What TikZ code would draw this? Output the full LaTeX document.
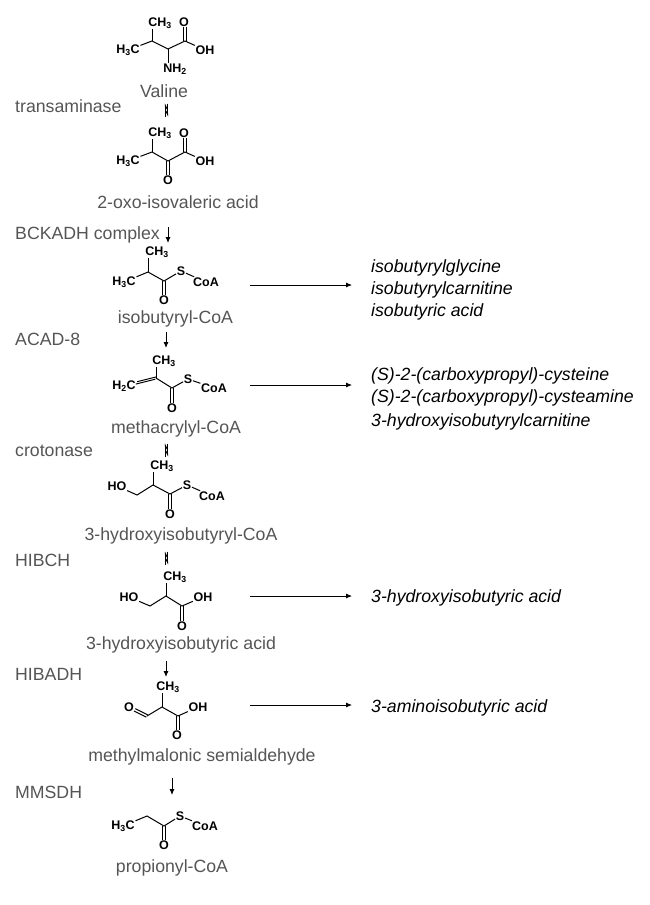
\documentclass[tikz,border=0pt]{standalone}
\usepackage{fontspec}
\setmainfont{Liberation Sans}
\usetikzlibrary{arrows.meta,positioning}
\definecolor{labelgray}{HTML}{555555}
\tikzset{
  atom/.style={font=\fontsize{12.5}{13}\selectfont\bfseries, inner sep=0.6pt},
  bond/.style={line width=1pt},
  dbond/.style={postaction={draw,bond,transform canvas={xshift=1.4pt}}, postaction={draw,bond,transform canvas={xshift=-1.4pt}}},
  sbond/.style={postaction={draw,bond,transform canvas={shift={(0.7pt,1.2pt)}}}, postaction={draw,bond,transform canvas={shift={(-0.7pt,-1.2pt)}}}},
  molname/.style={font=\fontsize{17.7}{20}\selectfont, text=labelgray, inner sep=0pt, text height=15pt, text depth=3pt},
  enzyme/.style={font=\fontsize{17.7}{20}\selectfont, text=labelgray, anchor=west, inner sep=0pt, text height=15pt, text depth=3pt},
  product/.style={font=\fontsize{17.7}{20}\selectfont\itshape, anchor=west, inner sep=0pt, text height=15pt, text depth=3pt},
  steparrow/.style={-{Latex[length=6pt,width=5pt]}, line width=0.9pt},
  sidearrow/.style={-{Latex[length=6pt,width=5pt]}, line width=0.8pt},
  halfarrow/.style={-{Straight Barb[harpoon,swap,length=3.5pt,width=3.5pt]}, line width=1pt}
}
\newcommand{\lowidx}[1]{\textsubscript{#1}}

\begin{document}
\begin{tikzpicture}[x=1pt,y=-1pt]
  \useasboundingbox (0,0) rectangle (650,905);

  % valine
  \node[atom] (vch3) at (160,23) {CH\lowidx{3}};
  \node[atom] (vo) at (184,22) {O};
  \node[atom] (vh3c) at (128,50) {H\lowidx{3}C};
  \node[atom] (voh) at (205,50) {OH};
  \node[atom] (vnh2) at (175,69) {NH\lowidx{2}};
  \coordinate (vc1) at (152,41);
  \coordinate (vc2) at (168,49);
  \coordinate (vc3) at (185,41);
  \draw[bond] (vh3c) -- (vc1) -- (vc2) -- (vc3) -- (voh);
  \draw[bond] (vc1) -- (vc1 |- vch3.south);
  \draw[bond] (vc2) -- (vc2 |- vnh2.north);
  \path[dbond] (vc3) -- (vc3 |- vo.south);
  \node[molname] (valine) at (164,91) {Valine};

  % 2-oxo-isovaleric acid
  \node[atom] (kch3) at (160,133) {CH\lowidx{3}};
  \node[atom] (ko) at (184,133) {O};
  \node[atom] (kh3c) at (128,161) {H\lowidx{3}C};
  \node[atom] (koh) at (205,161) {OH};
  \node[atom] (ko2) at (168,180) {O};
  \coordinate (kc1) at (152,152);
  \coordinate (kc2) at (168,161);
  \coordinate (kc3) at (185,152);
  \draw[bond] (kh3c) -- (kc1) -- (kc2) -- (kc3) -- (koh);
  \draw[bond] (kc1) -- (kc1 |- kch3.south);
  \path[dbond] (kc2) -- (ko2);
  \path[dbond] (kc3) -- (kc3 |- ko.south);
  \node[molname] (oxo) at (178,202) {2-oxo-isovaleric acid};

  % isobutyryl-CoA
  \node[atom] (ich3) at (157,252) {CH\lowidx{3}};
  \node[atom] (ih3c) at (124,282) {H\lowidx{3}C};
  \node[atom] (io) at (164,300) {O};
  \node[atom] (is) at (181,271) {S};
  \node[atom] (icoa) at (206,282) {CoA};
  \coordinate (ic1) at (148,272);
  \coordinate (ic2) at (164,281);
  \draw[bond] (ih3c) -- (ic1) -- (ic2) -- (is) -- (icoa);
  \draw[bond] (ic1) -- (ic1 |- ich3.south);
  \path[dbond] (ic2) -- (io);
  \node[molname] (isobutyryl) at (175.5,317) {isobutyryl-CoA};

  % methacrylyl-CoA
  \node[atom] (mch3) at (164,361) {CH\lowidx{3}};
  \node[atom] (mh2c) at (124,386) {H\lowidx{2}C};
  \node[atom] (mo) at (172,408) {O};
  \node[atom] (ms) at (188,379) {S};
  \node[atom] (mcoa) at (214,388) {CoA};
  \coordinate (mc1) at (156,378);
  \coordinate (mc2) at (172,388);
  \path[sbond] (mh2c) -- (mc1);
  \draw[bond] (mc1) -- (mc2) -- (ms) -- (mcoa);
  \draw[bond] (mc1) -- (mc1 |- mch3.south);
  \path[dbond] (mc2) -- (mo);
  \node[molname] (methacrylyl) at (176,427) {methacrylyl-CoA};

  % 3-hydroxyisobutyryl-CoA
  \node[atom] (hch3) at (162,466) {CH\lowidx{3}};
  \node[atom] (hho) at (117,486) {HO};
  \node[atom] (ho) at (170,514) {O};
  \node[atom] (hs) at (187,485) {S};
  \node[atom] (hcoa) at (212,496) {CoA};
  \coordinate (hc0) at (137,495);
  \coordinate (hc1) at (153,485);
  \coordinate (hc2) at (170,494);
  \draw[bond] (hho) -- (hc0) -- (hc1) -- (hc2) -- (hs) -- (hcoa);
  \draw[bond] (hc1) -- (hc1 |- hch3.south);
  \path[dbond] (hc2) -- (ho);
  \node[molname] (hydroxycoa) at (181,534) {3-hydroxyisobutyryl-CoA};

  % 3-hydroxyisobutyric acid
  \node[atom] (ach3) at (175,577) {CH\lowidx{3}};
  \node[atom] (aho) at (129,597) {HO};
  \node[atom] (ao) at (182,626) {O};
  \node[atom] (aoh) at (203,597) {OH};
  \coordinate (ac0) at (150,606);
  \coordinate (ac1) at (166,596);
  \coordinate (ac2) at (182,606);
  \draw[bond] (aho) -- (ac0) -- (ac1) -- (ac2) -- (aoh);
  \draw[bond] (ac1) -- (ac1 |- ach3.south);
  \path[dbond] (ac2) -- (ao);
  \node[molname] (hydroxyacid) at (181,643) {3-hydroxyisobutyric acid};

  % methylmalonic semialdehyde
  \node[atom] (sch3) at (168,687) {CH\lowidx{3}};
  \node[atom] (sald) at (129,707) {O};
  \node[atom] (so) at (177,735) {O};
  \node[atom] (soh) at (198,707) {OH};
  \coordinate (sc0) at (147,716);
  \coordinate (sc1) at (162,707);
  \coordinate (sc2) at (178,716);
  \path[sbond] (sald) -- (sc0);
  \draw[bond] (sc0) -- (sc1) -- (sc2) -- (soh);
  \draw[bond] (sc1) -- (sc1 |- sch3.south);
  \path[dbond] (sc2) -- (sc2 |- so.north);
  \node[molname] (semialdehyde) at (202,755) {methylmalonic semialdehyde};

  % propionyl-CoA
  \node[atom] (ph3c) at (123,826) {H\lowidx{3}C};
  \node[atom] (po) at (164,845) {O};
  \node[atom] (ps) at (180,816) {S};
  \node[atom] (pcoa) at (205,826) {CoA};
  \coordinate (pc1) at (147,816);
  \coordinate (pc2) at (164,826);
  \draw[bond] (ph3c) -- (pc1) -- (pc2) -- (ps) -- (pcoa);
  \path[dbond] (pc2) -- (po);
  \node[molname] (propionyl) at (172,866) {propionyl-CoA};

  % enzymes
  \node[enzyme] (transaminase) at (15,106) {transaminase};
  \node[enzyme] (bckadh) at (15,233) {BCKADH complex};
  \node[enzyme] (acad) at (15,339) {ACAD-8};
  \node[enzyme] (crotonase) at (15,450) {crotonase};
  \node[enzyme] (hibch) at (15,560) {HIBCH};
  \node[enzyme] (hibadh) at (15,674) {HIBADH};
  \node[enzyme] (mmsdh) at (15,792) {MMSDH};

  % pathway arrows
  \coordinate (eqa) at (166.5,110);
  \coordinate (eqb) at (166.5,450);
  \coordinate (eqc) at (166.5,558);
  \foreach \e in {eqa,eqb,eqc}{
    \draw[halfarrow] ([xshift=1.1pt,yshift=6.5pt]\e) -- ([xshift=1.1pt,yshift=-6.5pt]\e);
    \draw[halfarrow] ([xshift=-1.1pt,yshift=-6.5pt]\e) -- ([xshift=-1.1pt,yshift=6.5pt]\e);
  }
  \coordinate (da1) at (168,227);
  \coordinate (da2) at (168,243);
  \coordinate (db1) at (166,332);
  \coordinate (db2) at (166,348);
  \coordinate (dc1) at (166,661);
  \coordinate (dc2) at (166,677);
  \coordinate (dd1) at (172,778);
  \coordinate (dd2) at (172,795);
  \draw[steparrow] (da1) -- (da2);
  \draw[steparrow] (db1) -- (db2);
  \draw[steparrow] (dc1) -- (dc2);
  \draw[steparrow] (dd1) -- (dd2);

  % side products
  \node[product] (ibg) at (371,266) {isobutyrylglycine};
  \node[product] (ibc) at (371,288) {isobutyrylcarnitine};
  \node[product] (iba) at (371,310) {isobutyric acid};
  \node[product] (cys) at (371,374) {(S)-2-(carboxypropyl)-cysteine};
  \node[product] (cya) at (371,396) {(S)-2-(carboxypropyl)-cysteamine};
  \node[product] (hic) at (371,420) {3-hydroxyisobutyrylcarnitine};
  \node[product] (hia) at (371,596) {3-hydroxyisobutyric acid};
  \node[product] (aia) at (371,706) {3-aminoisobutyric acid};

  \coordinate (ra1) at (250,285);
  \coordinate (ra2) at (352,285);
  \coordinate (rb1) at (250,385);
  \coordinate (rb2) at (352,385);
  \coordinate (rc1) at (250,596);
  \coordinate (rc2) at (352,596);
  \coordinate (rd1) at (250,705);
  \coordinate (rd2) at (352,705);
  \draw[sidearrow] (ra1) -- (ra2);
  \draw[sidearrow] (rb1) -- (rb2);
  \draw[sidearrow] (rc1) -- (rc2);
  \draw[sidearrow] (rd1) -- (rd2);
\end{tikzpicture}
\end{document}
